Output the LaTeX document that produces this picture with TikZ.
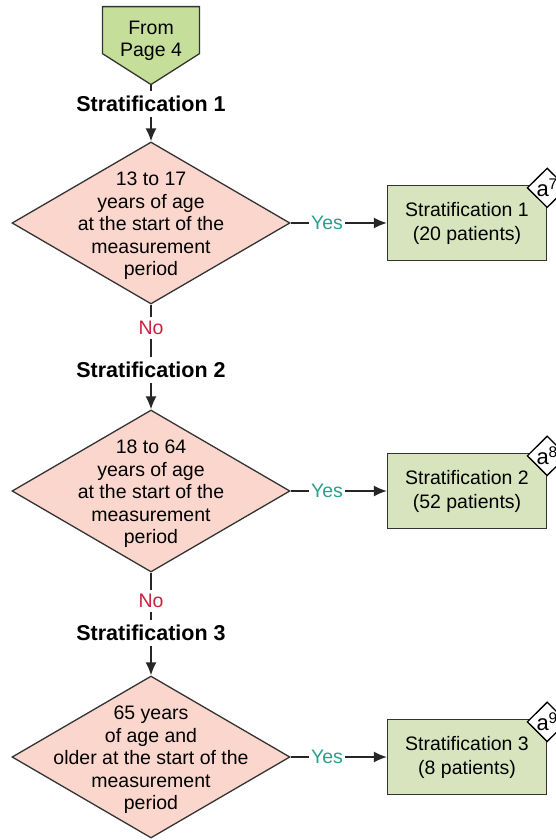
\documentclass[tikz,border=0pt]{standalone}
\usepackage{fontspec}
\setmainfont{Liberation Sans}
\usetikzlibrary{arrows.meta,shapes.geometric,shapes.symbols}
\definecolor{pagegreen}{RGB}{197,223,155}
\definecolor{boxgreen}{RGB}{216,228,190}
\definecolor{askpink}{RGB}{250,214,204}
\definecolor{yesteal}{RGB}{40,160,140}
\definecolor{nored}{RGB}{205,30,60}
\newcommand{\txt}{\fontsize{19.5}{22.5}\selectfont}
\newcommand{\boxtxt}{\fontsize{19.5}{24}\selectfont}
\newcommand{\hdr}{\fontsize{21.5}{24}\selectfont\bfseries}
\newcommand{\badgetxt}{\fontsize{22}{24}\selectfont}
\tikzset{
  line/.style={draw=black!85, line width=1.5pt},
  arr/.style={line, -{Latex[length=13pt,width=11pt]}},
  offpage/.style={signal, signal to=south, signal pointer angle=115, draw=black!80,
    fill=pagegreen, line width=1.3pt, minimum width=97pt, minimum height=47pt,
    inner sep=0pt},
  pagetext/.style={align=center, font=\txt, inner sep=0pt},
  ask/.style={diamond, draw=black!80, fill=askpink, line width=1.3pt,
    minimum width=278pt, minimum height=162pt, inner sep=0pt},
  asktext/.style={align=center, font=\txt, yshift=-3pt},
  result/.style={rectangle, draw=black!80, fill=boxgreen, line width=1.3pt,
    minimum width=159pt, minimum height=75pt, align=center, font=\boxtxt},
  badge/.style={diamond, draw=black, fill=white, line width=1.3pt,
    minimum width=40pt, minimum height=38pt, inner sep=0pt, font=\badgetxt,
    yshift=-3pt},
  stratum/.style={font=\hdr, inner sep=5pt},
  yes/.style={text=yesteal, font=\txt, inner sep=2pt},
  no/.style={text=nored, font=\txt, inner sep=4pt},
}

\begin{document}
\begin{tikzpicture}[x=1pt,y=-1pt]
  \useasboundingbox (0,0) rectangle (556,840);
  \node[offpage, anchor=north] (page) at (151,6) {};
  \node[pagetext] (pt) at (151,41) {From\\Page 4};
  \node[stratum] (h1) at (151,104) {Stratification 1};
  \node[stratum] (h2) at (151,370) {Stratification 2};
  \node[stratum] (h3) at (151,633) {Stratification 3};
  \node[ask] (q1) at (151,223) {};
  \node[ask] (q2) at (151,491) {};
  \node[ask] (q3) at (151,757) {};
  \node[asktext] (t1) at (q1) {13 to 17\\years of age\\at the start of the\\measurement\\period};
  \node[asktext] (t2) at (q2) {18 to 64\\years of age\\at the start of the\\measurement\\period};
  \node[asktext] (t3) at (q3) {65 years\\of age and\\older at the start of the\\measurement\\period};
  \node[no] (n1) at (151,328) {No};
  \node[no] (n2) at (151,601) {No};
  \node[yes] (y1) at (327,223) {Yes};
  \node[yes] (y2) at (327,491) {Yes};
  \node[yes] (y3) at (327,757) {Yes};
  \node[result] (r1) at (467,223) {Stratification 1\\(20 patients)};
  \node[result] (r2) at (467,491) {Stratification 2\\(52 patients)};
  \node[result] (r3) at (467,757) {Stratification 3\\(8 patients)};
  \node[badge] (a7) at (r1.north east) {a\textsuperscript{7}};
  \node[badge] (a8) at (r2.north east) {a\textsuperscript{8}};
  \node[badge] (a9) at (r3.north east) {a\textsuperscript{9}};
  \draw[line] (page) -- (h1);
  \draw[arr]  (h1) -- (q1);
  \draw[line] (q1) -- (n1);
  \draw[line] (n1) -- (h2);
  \draw[arr]  (h2) -- (q2);
  \draw[line] (q2) -- (n2);
  \draw[line] (n2) -- (h3);
  \draw[arr]  (h3) -- (q3);
  \draw[line] (q1) -- (y1);
  \draw[arr]  (y1) -- (r1);
  \draw[line] (q2) -- (y2);
  \draw[arr]  (y2) -- (r2);
  \draw[line] (q3) -- (y3);
  \draw[arr]  (y3) -- (r3);
\end{tikzpicture}
\end{document}
